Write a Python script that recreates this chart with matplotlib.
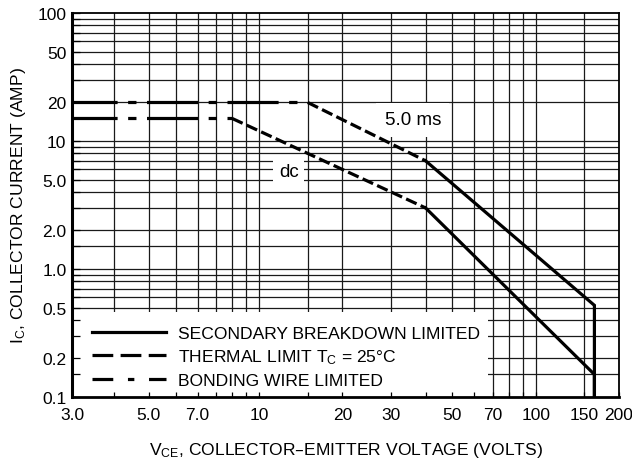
import matplotlib
matplotlib.use("Agg")
import matplotlib.pyplot as plt
from matplotlib.lines import Line2D
from matplotlib.patches import Rectangle

plt.rcParams['font.family'] = ['Liberation Sans', 'DejaVu Sans']
plt.rcParams['mathtext.default'] = 'regular'

# axis range
x_min, x_max = 2.11, 200
y_min, y_max = 0.1, 100

# grid lines
x_grid = [3, 4, 5, 6, 7, 8, 9, 10, 15, 20, 30, 40, 50, 60, 70, 80, 90, 100, 150]
y_grid = [0.15, 0.2, 0.3, 0.4, 0.5, 0.6, 0.7, 0.8, 0.9, 1, 1.5, 2, 3, 4, 5, 6, 7, 8, 9,
          10, 20, 30, 40, 50, 60, 70, 80, 90]

# tick labels as printed on the chart
x_tick_pos = [2.11, 4, 6, 10, 20, 30, 50, 70, 100, 150, 200]
x_tick_lab = ['3.0', '5.0', '7.0', '10', '20', '30', '50', '70', '100', '150', '200']
y_tick_pos = [0.1, 0.2, 0.5, 1, 2, 5, 10, 20, 50, 100]
y_tick_lab = ['0.1', '0.2', '0.5', '1.0', '2.0', '5.0', '10', '20', '50', '100']

# 5.0 ms curve
ms5_bond_x = [2.0, 15]
ms5_bond_y = [20, 20]
ms5_therm_x = [15, 40]
ms5_therm_y = [20, 7.0]
ms5_sb_x = [40, 163, 163]
ms5_sb_y = [7.0, 0.52, 0.1]

# dc curve
dc_bond_x = [2.0, 8]
dc_bond_y = [15, 15]
dc_therm_x = [8, 40]
dc_therm_y = [15, 3.0]
dc_sb_x = [40, 163, 163]
dc_sb_y = [3.0, 0.15, 0.1]

LW = 2.3
therm_dash = (3.6, 1.4)
bond_dash = (16, 3.3, 2.6, 3.3)

fig = plt.figure(figsize=(6.32, 4.64), dpi=100)
ax = fig.add_axes([72 / 632, 66 / 464, 547 / 632, 384 / 464])
ax.set_xscale('log')
ax.set_yscale('log')
ax.set_xlim(x_min, x_max)
ax.set_ylim(y_min, y_max)

for xv in x_grid:
    ax.axvline(xv, color='#1a1a1a', lw=0.9, zorder=1)
for yv in y_grid:
    ax.axhline(yv, color='#1a1a1a', lw=0.9, zorder=1)

for bx, by, tx, ty, sx, sy in [(ms5_bond_x, ms5_bond_y, ms5_therm_x, ms5_therm_y, ms5_sb_x, ms5_sb_y),
                               (dc_bond_x, dc_bond_y, dc_therm_x, dc_therm_y, dc_sb_x, dc_sb_y)]:
    ax.plot(bx, by, color='black', lw=LW, dashes=bond_dash, zorder=4)
    ax.plot(tx, ty, color='black', lw=LW, dashes=therm_dash, zorder=4)
    ax.plot(sx, sy, color='black', lw=LW, zorder=4, solid_joinstyle='miter')

ax.text(36, 14.6, '5.0 ms', fontsize=13.5, ha='center', va='center', zorder=3,
        bbox=dict(facecolor='white', edgecolor='none', pad=6))
ax.text(12.8, 5.8, 'dc', fontsize=13.5, ha='center', va='center', zorder=3,
        bbox=dict(facecolor='white', edgecolor='none', pad=4))

# legend on a white panel that hides the grid but not the ticks
ax.add_patch(Rectangle((0, 0), (488 - 72) / 547, (398 - 313) / 384, transform=ax.transAxes,
                       facecolor='white', edgecolor='none', zorder=2))
handles = [Line2D([], [], color='black', lw=LW),
           Line2D([], [], color='black', lw=LW, dashes=(6.5, 2.3)),
           Line2D([], [], color='black', lw=LW, dashes=(6.5, 4.6, 2.0, 4.6))]
labels = ['SECONDARY BREAKDOWN LIMITED', 'THERMAL LIMIT T$_C$ = 25°C', 'BONDING WIRE LIMITED']
leg = ax.legend(handles, labels, loc='lower left', bbox_to_anchor=(20 / 547, 9 / 384),
                frameon=False, fontsize=12.6, handlelength=4.2, handletextpad=0.7,
                labelspacing=0.38, borderpad=0, borderaxespad=0)
leg.set_zorder(2.2)

ax.set_axisbelow(False)
ax.set_xticks(x_tick_pos)
ax.set_xticklabels(x_tick_lab)
ax.set_xticks(x_grid, minor=True)
ax.set_xticklabels([], minor=True)
ax.set_yticks(y_tick_pos)
ax.set_yticklabels(y_tick_lab)
ax.set_yticks(y_grid, minor=True)
ax.set_yticklabels([], minor=True)
ax.tick_params(axis='x', which='both', direction='in', length=3.6, width=0.9, pad=7, labelsize=12.5)
ax.tick_params(axis='y', which='both', direction='in', length=5.8, width=0.9, pad=4, labelsize=12.5)

for s in ax.spines.values():
    s.set_linewidth(1.3)
    s.set_zorder(5)
ax.spines['left'].set_linewidth(2.2)
ax.spines['bottom'].set_linewidth(2.0)

ax.set_xlabel('V$_{CE}$, COLLECTOR\u2013EMITTER VOLTAGE (VOLTS)', fontsize=12.6, labelpad=13)
ax.set_ylabel('I$_C$, COLLECTOR CURRENT (AMP)', fontsize=12.6, labelpad=7)

fig.savefig('out.png', dpi=100)
